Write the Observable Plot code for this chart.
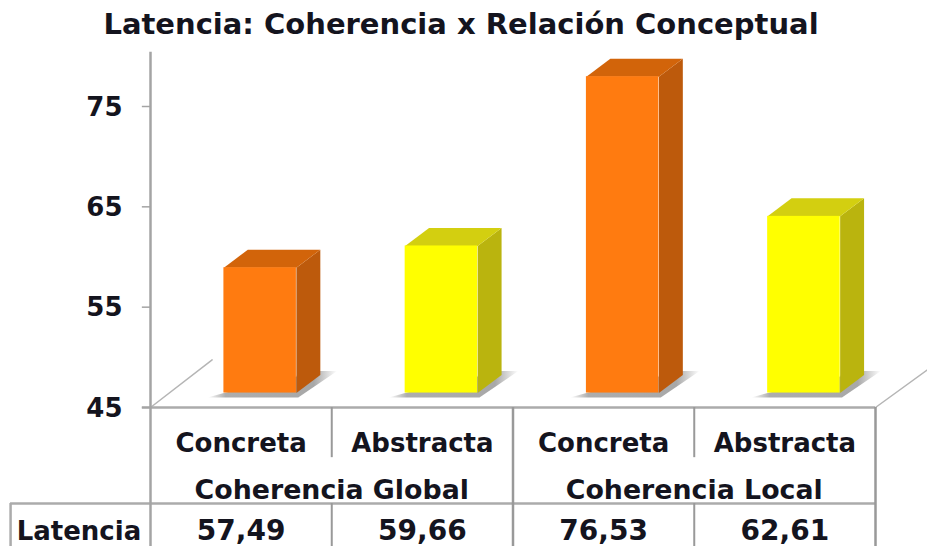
<!DOCTYPE html>
<html lang="es">
<head>
<meta charset="utf-8">
<script src="https://cdn.jsdelivr.net/npm/d3@7"></script>
<script src="https://cdn.jsdelivr.net/npm/@observablehq/plot@0.6"></script>
<style>
  html, body { margin: 0; background: #fff; }
  svg { display: block; }
</style>
</head>
<body>
<div id="chart"></div>
<script>
// Latency means by coherence and conceptual relation
const chartTitle = "Latencia: Coherencia x Relación Conceptual";
const relations = ["Concreta", "Abstracta", "Concreta", "Abstracta"];
const groups = ["Coherencia Global", "Coherencia Local"];
const rowLabel = "Latencia";
const latencies = [57.49, 59.66, 76.53, 62.61];
const yTicks = [45, 55, 65, 75];

const frontColors = ["#ff7b10", "#ffff00", "#ff7b10", "#ffff00"];
const sideColors = ["#bd5a0c", "#bab40e", "#bd5a0c", "#bab40e"];
const topColors = ["#d2640a", "#d3cf10", "#d2640a", "#d3cf10"];

// Bar geometry in scale units: x in table columns, y in latency
const barWidth = 0.4, depthX = 0.132, depthY = 1.8, lift = 1.44;
const floor = yTicks[0];

// Levels of the data table below the baseline, in latency units
const relationRow = 41.4, groupRow = 36.7, valueRow = 32.65;
const rowRule = 35.43, tableEnd = 31.1, labelColumn = -0.395, tableLeft = -0.772;

const fmt = v => v.toFixed(2).replace(".", ",");
const bars = latencies.map((v, i) => ({
  i, v,
  x1: i + 0.605 - barWidth / 2,
  x2: i + 0.605 + barWidth / 2,
  y1: floor + lift,
  y2: v + lift
}));
const poly = (b, fill, pts) => pts.map(([x, y]) => ({x, y, id: b.i, fill}));
const sides = bars.flatMap((b, i) => poly(b, sideColors[i], [
  [b.x2, b.y1], [b.x2 + depthX, b.y1 + depthY], [b.x2 + depthX, b.y2 + depthY], [b.x2, b.y2]
]));
const tops = bars.flatMap((b, i) => poly(b, topColors[i], [
  [b.x1, b.y2], [b.x2, b.y2], [b.x2 + depthX, b.y2 + depthY], [b.x1 + depthX, b.y2 + depthY]
]));
// Floor shadow: a strip under the front face that widens behind the bar
const shadows = bars.flatMap(b => poly(b, "url(#floorShadow)", [
  [b.x1 - 0.09, floor + 1.0], [b.x2 + 0.01, floor + 1.0],
  [b.x2 + 0.225, floor + 3.65], [b.x2 + depthX, floor + 3.65], [b.x1, b.y1]
]));

const lineColor = "#ababab";
const font = {fontFamily: "'DejaVu Sans', Verdana, sans-serif", fontWeight: "bold", fill: "#14141e"};

const plot = Plot.plot({
  width: 927,
  height: 546,
  margin: 0,
  style: {background: "#fff", overflow: "hidden"},
  x: {type: "linear", domain: [0, 4], range: [150, 875], axis: null},
  y: {type: "linear", domain: [45, 75], range: [407, 106], axis: null},
  marks: [
    // Soft shadow gradient for the floor
    () => {
      const defs = d3.create("svg:defs");
      const g = defs.append("linearGradient").attr("id", "floorShadow");
      [[0, "#fff"], [0.14, "#adadad"], [0.82, "#a8a8a8"], [1, "#fff"]].forEach(([o, c]) =>
        g.append("stop").attr("offset", o).attr("stop-color", c));
      return defs.node();
    },
    // Floor edges running back in perspective
    Plot.line([[0, floor], [0.34, floor + 4.75]], {stroke: "#b5b5b5", strokeWidth: 1.5}),
    Plot.line([[4, floor], [4.29, floor + 3.8]], {stroke: "#b5b5b5", strokeWidth: 1.5}),
    Plot.line(shadows, {x: "x", y: "y", z: "id", fill: "fill", stroke: "none"}),

    // Table grid
    Plot.ruleY([floor], {x1: -0.045, x2: 4, stroke: lineColor, strokeWidth: 2.5}),
    Plot.ruleY([rowRule], {x1: tableLeft, x2: 4, stroke: lineColor, strokeWidth: 2.5}),
    Plot.ruleX([1, 3], {y1: floor, y2: 40, stroke: "#999", strokeWidth: 2}),
    Plot.ruleX([1, 3], {y1: rowRule, y2: tableEnd, stroke: "#999", strokeWidth: 2}),
    Plot.ruleX([2, 4], {y1: floor, y2: tableEnd, stroke: "#999", strokeWidth: 2.5}),
    Plot.ruleX([tableLeft], {y1: rowRule, y2: tableEnd, stroke: lineColor, strokeWidth: 2.5}),

    // Value axis with its line running down through the table
    Plot.ruleX([0], {y1: tableEnd, y2: 80.4, stroke: "#a4a4a4", strokeWidth: 2.5}),
    Plot.ruleY(yTicks, {x1: -0.045, x2: 0, stroke: "#a4a4a4", strokeWidth: 1.5}),
    Plot.text(yTicks, {
      y: d => d, x: () => 0, text: String, dx: -28, dy: 1, textAnchor: "end",
      fontSize: 26, ...font
    }),

    // 3D bars
    Plot.line(sides, {x: "x", y: "y", z: "id", fill: "fill", stroke: "none"}),
    Plot.line(tops, {x: "x", y: "y", z: "id", fill: "fill", stroke: "none"}),
    Plot.rect(bars, {x1: "x1", x2: "x2", y1: "y1", y2: "y2", fill: (d, i) => frontColors[i]}),

    // Table text
    Plot.text(relations, {x: (d, i) => i + 0.5, y: () => relationRow, text: d => d, fontSize: 26, ...font}),
    Plot.text(groups, {x: (d, i) => i * 2 + 1, y: () => groupRow, text: d => d, fontSize: 26.8, ...font}),
    Plot.text([rowLabel], {x: () => labelColumn, y: () => valueRow, text: d => d, fontSize: 26, ...font}),
    Plot.text(latencies, {x: (d, i) => i + 0.5, y: () => valueRow, text: fmt, fontSize: 28, ...font}),

    // Chart title
    Plot.text([chartTitle], {frameAnchor: "top", dx: -3, dy: 13, lineAnchor: "top", text: d => d, fontSize: 29, ...font})
  ]
});
document.getElementById("chart").append(plot);
</script>
</body>
</html>
